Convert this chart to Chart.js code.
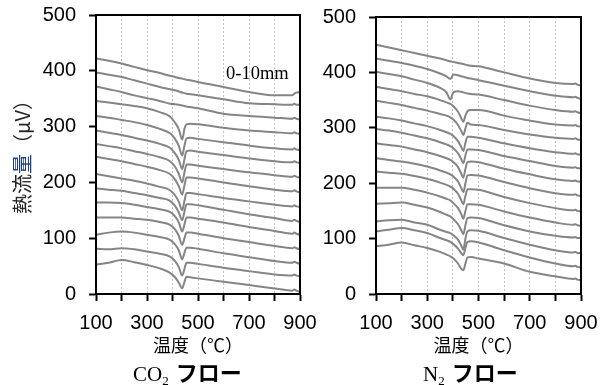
<!DOCTYPE html>
<html>
<head>
<meta charset="utf-8">
<script src="https://cdn.jsdelivr.net/npm/chart.js@4.4.0/dist/chart.umd.min.js"></script>
<style>
  body { margin: 0; background: #fff; }
  #page { position: relative; width: 606px; height: 385px; overflow: hidden; }
  canvas { position: absolute; top: 0; }
  #co2 { left: 0; }
  #n2 { left: 300px; }
  .ytitle { position: absolute; left: 22px; top: 152px; transform: translate(-50%, -50%) rotate(-90deg);
    font: 20px/1 "Noto Sans CJK JP"; white-space: nowrap; color: #222; }
  .ytitle .blue { color: #1f3f7a; }
  .note { position: absolute; left: 226px; top: 62px; font: 18.5px/1.2 "Liberation Serif"; color: #000; }
  .sub { position: absolute; top: 360px; font-size: 22px; line-height: 22px; white-space: nowrap; color: #000; }
  .sub .chem { font-family: "Liberation Serif"; font-size: 21px; }
  .sub sub { font-size: 13px; line-height: 0; vertical-align: -4px; }
  .sub .kana { font-family: "Noto Sans CJK JP"; font-weight: bold; margin-left: 7px; }
</style>
</head>
<body>
<div id="page">
  <canvas id="co2" width="320" height="385"></canvas>
  <canvas id="n2" width="306" height="385"></canvas>
  <div class="ytitle">熱流<span class="blue">量</span>（μV）</div>
  <div class="note">0-10mm</div>
  <div class="sub" style="left:133px"><span class="chem">CO<sub>2</sub></span><span class="kana">フロー</span></div>
  <div class="sub" style="left:423px"><span class="chem">N<sub>2</sub></span><span class="kana">フロー</span></div>
</div>
<script>
// temperatures (°C) where each curve was read
const tempsCO2 = [100,150,200,250,300,350,390,410,425,438,447,455,470,500,600,700,800,870,878,886,900];
const tempsN2 = [100,150,200,250,300,350,375,390,402,420,432,441,449,457,470,500,600,700,800,870,878,886,900];

// CO2 flow, heat flow (µV), top curve first
const co2_01 = [422,418,413,407,401,396,391,389,387,386,385,384,383,380,371,362,356,356,359,361,362];
const co2_02 = [397,393,389,383,377,371,367,365,363,361,360,359,358,356,349,342,340,339,341,339,339];
const co2_03 = [372,367,362,356,351,346,341,340,339,338,337,336,335,333,323,319,316,314,316,314,313];
const co2_04 = [346,343,340,337,333,326,318,307,295,277,296,304,305,304,298,293,290,288,290,288,287];
const co2_05 = [319,316,312,308,303,296,288,278,265,248,266,279,280,278,272,266,261,259,261,259,258];
const co2_06 = [293,289,285,280,275,269,262,252,240,224,242,256,257,255,249,243,238,236,238,236,235];
const co2_07 = [269,265,261,256,251,245,238,228,215,200,218,232,232,230,224,218,213,210,212,210,209];
const co2_08 = [246,242,238,233,228,222,215,205,193,178,195,209,209,207,200,193,187,184,186,184,182];
const co2_09 = [215,211,207,203,198,192,186,177,165,150,167,181,181,179,172,166,160,157,159,157,156];
const co2_10 = [189,187,185,181,177,172,167,158,146,132,148,161,161,159,151,143,136,131,133,131,129];
const co2_11 = [164,164,163,160,156,152,147,139,128,112,125,137,137,135,128,120,113,108,110,108,106];
const co2_12 = [137,137,137,135,133,129,124,116,104,88,100,110,110,108,100,93,86,82,84,82,80];
const co2_13 = [106,110,112,110,106,102,97,89,78,62,74,83,83,81,73,66,59,56,58,56,54];
const co2_14 = [81,80,82,80,76,72,67,59,48,33,45,56,56,54,47,41,35,33,35,33,32];
const co2_15 = [53,56,61,57,52,46,38,30,20,10,22,31,30,28,22,16,10,6,8,6,4];

// N2 flow
const n2_01 = [450,445,440,435,430,425,422,420,419,417,416,415,414,413,412,411,400,389,381,379,380,378,376];
const n2_02 = [425,421,417,412,406,398,393,388,396,395,393,392,391,390,389,386,376,366,358,355,356,354,352];
const n2_03 = [401,397,393,387,381,372,364,351,364,366,365,364,363,362,361,360,350,340,332,329,330,328,326];
const n2_04 = [374,370,366,361,357,350,346,343,339,329,318,311,322,330,332,332,322,313,306,304,305,303,302];
const n2_05 = [349,345,341,336,331,325,322,319,315,305,295,287,299,309,306,305,296,288,282,280,281,279,278];
const n2_06 = [320,317,313,308,303,296,292,289,285,276,266,258,273,284,284,282,272,263,256,253,254,252,252];
const n2_07 = [298,295,291,286,281,274,270,267,263,254,244,236,250,261,261,260,249,240,231,228,229,227,227];
const n2_08 = [272,269,266,261,256,249,245,242,238,229,218,210,226,238,239,238,226,216,207,204,205,203,203];
const n2_09 = [245,242,239,235,230,223,219,216,212,203,192,184,200,214,215,214,202,191,182,179,180,178,177];
const n2_10 = [221,219,217,213,208,201,197,194,190,181,170,162,177,189,189,188,175,164,155,151,152,150,149];
const n2_11 = [192,192,192,188,183,176,172,169,164,155,145,136,150,162,162,161,149,138,129,125,126,124,123];
const n2_12 = [163,164,165,161,156,148,143,140,135,126,116,108,124,137,138,137,124,113,105,102,103,101,101];
const n2_13 = [131,133,134,129,125,116,112,110,106,98,88,80,100,113,115,114,101,89,79,75,76,74,74];
const n2_14 = [113,116,119,115,110,101,97,94,90,82,74,70,83,94,95,93,79,66,55,50,51,49,48];
const n2_15 = [86,89,93,88,83,76,71,68,64,55,46,43,55,66,67,64,55,40,32,27,28,26,25];

const xTicks = [100, 300, 500, 700, 900];

const co2Series = [co2_01,co2_02,co2_03,co2_04,co2_05,co2_06,co2_07,co2_08,co2_09,co2_10,co2_11,co2_12,co2_13,co2_14,co2_15];
const n2Series = [n2_01,n2_02,n2_03,n2_04,n2_05,n2_06,n2_07,n2_08,n2_09,n2_10,n2_11,n2_12,n2_13,n2_14,n2_15];

// box around the plot area
const frame = {
  id: 'frame',
  afterDraw(chart) {
    const { ctx, chartArea: a } = chart;
    ctx.save();
    ctx.strokeStyle = '#000';
    ctx.lineWidth = 2;
    ctx.strokeRect(a.left, a.top, a.right - a.left, a.bottom - a.top);
    ctx.restore();
  }
};

const tickFont = { family: 'Liberation Sans', size: 20 };

// fixed axis size, no extra label overhang so the plot area sits where the layout padding says
function fixSize(s, prop, size) {
  s[prop] = size;
  s.paddingTop = s.paddingBottom = s.paddingLeft = s.paddingRight = 0;
}

function makeChart(id, temps, series, box) {
  new Chart(document.getElementById(id), {
    type: 'line',
    data: {
      datasets: series.map(ys => ({
        data: ys.map((y, i) => ({ x: temps[i], y: y })),
        borderColor: '#858585',
        borderWidth: 2,
        pointRadius: 0,
        cubicInterpolationMode: 'monotone',
        fill: false
      }))
    },
    options: {
      responsive: false,
      animation: false,
      layout: { padding: { left: 0, top: box.top, right: box.right, bottom: 29 } },
      plugins: { legend: { display: false }, tooltip: { enabled: false } },
      scales: {
        x: {
          type: 'linear', min: 100, max: 900,
          ticks: {
            stepSize: 100, autoSkip: false, maxRotation: 0, color: '#000', font: tickFont, padding: 10,
            callback: v => xTicks.includes(v) ? v : ''
          },
          grid: { color: '#c4c4c4', lineWidth: 1, tickColor: '#000', tickWidth: 2, tickLength: 7 },
          border: { color: '#000', width: 2, dash: [2, 2] },
          title: { display: true, text: '温度（℃）', color: '#000',
                   font: { family: 'Noto Sans CJK JP', size: 18 }, padding: 0 },
          afterFit: s => fixSize(s, 'height', 62)
        },
        y: {
          min: 0, max: 500,
          ticks: { stepSize: 100, color: '#000', font: tickFont, padding: 13 },
          grid: { drawOnChartArea: false, tickColor: '#000', tickWidth: 2, tickLength: 7 },
          border: { color: '#000', width: 2 },
          afterFit: s => fixSize(s, 'width', box.yw)
        }
      }
    },
    plugins: [frame]
  });
}

makeChart('co2', tempsCO2, co2Series, { top: 15, right: 20, yw: 96 });
makeChart('n2', tempsN2, n2Series, { top: 17, right: 25, yw: 76 });
</script>
</body>
</html>
